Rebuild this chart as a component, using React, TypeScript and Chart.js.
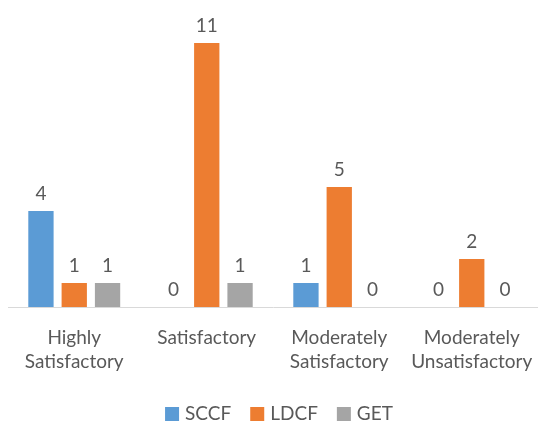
import React, { useEffect, useRef } from "react";
import { Chart, registerables } from "chart.js";

Chart.register(...registerables);

const categories: string[][] = [
  ["Highly", "Satisfactory"],
  ["Satisfactory"],
  ["Moderately", "Satisfactory"],
  ["Moderately", "Unsatisfactory"],
];
const sccf = [4, 0, 1, 0];
const ldcf = [1, 11, 5, 2];
const get = [1, 1, 0, 0];

const FONT = "Lato, 'Open Sans', sans-serif";
const TEXT = "#595959";

const valueLabels = {
  id: "valueLabels",
  afterDatasetsDraw(chart: any) {
    const ctx = chart.ctx;
    ctx.save();
    ctx.font = `19px ${FONT}`;
    ctx.fillStyle = TEXT;
    ctx.textAlign = "center";
    ctx.textBaseline = "bottom";
    chart.data.datasets.forEach((ds: any, i: number) => {
      const meta = chart.getDatasetMeta(i);
      meta.data.forEach((bar: any, j: number) => {
        ctx.fillText(String(ds.data[j]), bar.x, bar.y - 8);
      });
    });
    ctx.restore();
  },
};

const customLegend = {
  id: "customLegend",
  afterDraw(chart: any) {
    const ctx = chart.ctx;
    ctx.save();
    ctx.font = `19px ${FONT}`;
    ctx.textBaseline = "middle";
    ctx.textAlign = "left";
    const box = 14, gap = 6, spacing = 19;
    const items = chart.data.datasets.map((ds: any) => ({
      label: ds.label,
      color: ds.backgroundColor,
      w: ctx.measureText(ds.label).width,
    }));
    const total = items.reduce((s: number, it: any) => s + box + gap + it.w, 0) + spacing * (items.length - 1);
    let x = 279 - total / 2;
    const cy = 414;
    items.forEach((it: any) => {
      ctx.fillStyle = it.color;
      ctx.fillRect(x, cy - box / 2, box, box);
      x += box + gap;
      ctx.fillStyle = TEXT;
      ctx.fillText(it.label, x, cy);
      x += it.w + spacing;
    });
    ctx.restore();
  },
};

export default function App() {
  const ref = useRef<HTMLCanvasElement>(null);
  useEffect(() => {
    document.body.style.margin = "0";
    const chart = new Chart(ref.current!, {
      type: "bar",
      data: {
        labels: categories,
        datasets: [
          { label: "SCCF", data: sccf, backgroundColor: "#5B9BD5" },
          { label: "LDCF", data: ldcf, backgroundColor: "#ED7D31" },
          { label: "GET", data: get, backgroundColor: "#A5A5A5" },
        ],
      },
      options: {
        animation: false,
        responsive: false,
        layout: { padding: { left: 8, right: -6, top: 19, bottom: 40 } },
        datasets: { bar: { categoryPercentage: 0.754, barPercentage: 0.76 } },
        scales: {
          y: { display: false, min: 0, max: 12 },
          x: {
            grid: { display: false, drawTicks: false },
            border: { display: true, color: "#D9D9D9", width: 1 },
            afterFit: (scale: any) => {
              scale.height = 76;
              scale.paddingLeft = 0;
              scale.paddingRight = 0;
            },
            ticks: {
              color: TEXT,
              font: { family: FONT, size: 19, lineHeight: 1.26 },
              padding: 19,
              maxRotation: 0,
              autoSkip: false,
            },
          },
        },
        plugins: {
          legend: { display: false },
          tooltip: { enabled: false },
        },
      },
      plugins: [valueLabels, customLegend],
    });
    return () => chart.destroy();
  }, []);
  return <canvas ref={ref} width={538} height={423} style={{ display: "block" }} />;
}
